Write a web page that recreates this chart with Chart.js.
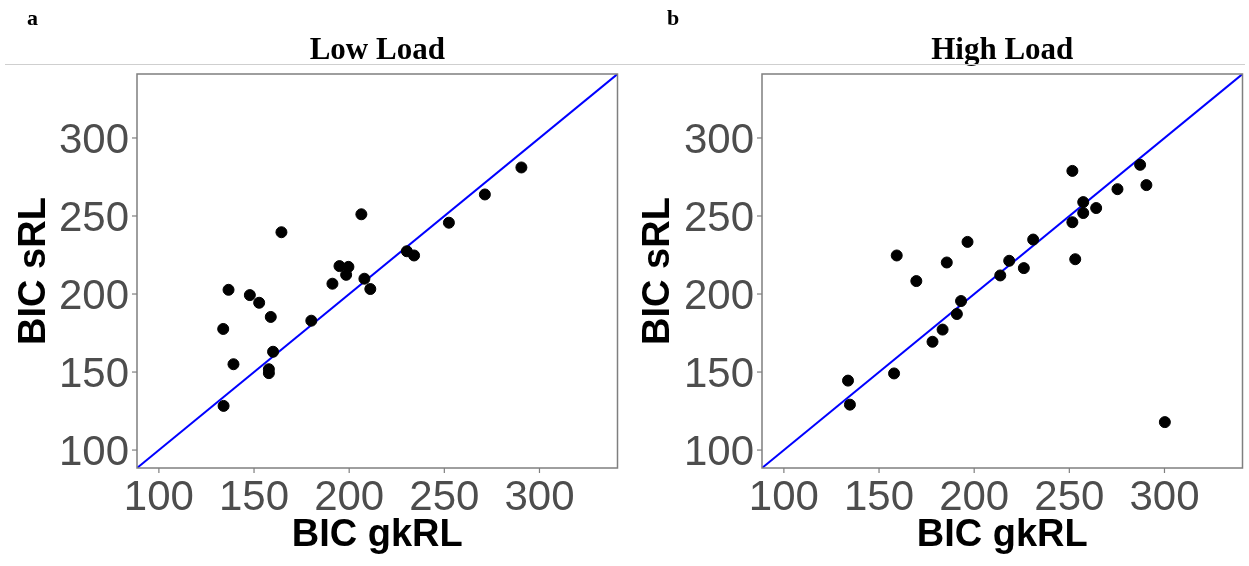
<!DOCTYPE html>
<html>
<head>
<meta charset="utf-8">
<script src="https://cdn.jsdelivr.net/npm/chart.js@4.4.0/dist/chart.umd.min.js"></script>
<style>
  body { margin: 0; background: #fff; width: 1249px; height: 566px; position: relative; overflow: hidden; }
  canvas { position: absolute; top: 0; }
  #left { left: 0; }
  #right { left: 624px; }
  #rule { position: absolute; left: 5px; top: 64px; width: 1240px; height: 1px; background: #cfcfcf; z-index: 2; }
</style>
</head>
<body>
<canvas id="left" width="624" height="566"></canvas>
<canvas id="right" width="625" height="566"></canvas>
<div id="rule"></div>
<script>
// axis setup
const axisMin = 88.5;
const axisMax = 341;
const tickValues = [100, 150, 200, 250, 300];

// Low Load (panel a)
const lowX = [134.0, 133.8, 136.6, 139.2, 147.8, 152.7, 158.8, 160.0, 157.8, 157.8, 164.4, 180.1,
    191.2, 194.9, 199.6, 198.4, 206.4, 208.0, 211.1, 230.3, 234.1, 252.4, 271.3, 290.5];
const lowY = [128.3, 177.6, 202.7, 155.0, 199.3, 194.4, 185.3, 163.0, 151.8, 149.3, 239.6, 182.9,
    206.6, 217.9, 217.4, 212.3, 251.1, 209.8, 203.2, 227.4, 224.7, 245.7, 263.8, 281.1];

// High Load (panel b)
const highX = [133.7, 134.7, 157.9, 159.3, 169.6, 178.1, 183.4, 185.6, 190.9, 193.1, 196.5, 213.7,
    218.4, 226.1, 231.0, 251.6, 251.6, 253.1, 257.3, 257.3, 264.1, 275.3, 287.2, 290.5, 300.2];
const highY = [144.5, 129.1, 149.1, 224.7, 208.3, 169.4, 177.2, 220.2, 187.2, 195.5, 233.4, 211.9,
    221.3, 216.6, 234.9, 278.9, 246.0, 222.3, 258.9, 251.9, 255.1, 267.2, 282.8, 269.8, 117.9];

const TICK_FONT = "42px 'Liberation Sans', Arial, sans-serif";
const AXIS_FONT = "bold 38px 'Liberation Sans', Arial, sans-serif";
const TITLE_FONT = "bold 31px 'Liberation Serif', 'Times New Roman', serif";
const LETTER_FONT = "bold 22px 'Liberation Serif', 'Times New Roman', serif";

function decorations(title, letter) {
    return {
        id: "decor",
        afterDraw(chart) {
            const ctx = chart.ctx;
            const a = chart.chartArea;
            const xs = chart.scales.x;
            const ys = chart.scales.y;
            ctx.save();

            // panel border
            ctx.strokeStyle = "#7f7f7f";
            ctx.lineWidth = 1.5;
            ctx.strokeRect(a.left, a.top, a.right - a.left, a.bottom - a.top);

            // ticks + labels
            ctx.fillStyle = "#4d4d4d";
            ctx.font = TICK_FONT;
            ctx.lineWidth = 1.2;
            tickValues.forEach(v => {
                const px = xs.getPixelForValue(v);
                ctx.beginPath();
                ctx.moveTo(px, a.bottom);
                ctx.lineTo(px, a.bottom + 5);
                ctx.stroke();
                ctx.textAlign = "center";
                ctx.textBaseline = "alphabetic";
                ctx.fillText(String(v), px, 510);

                const py = ys.getPixelForValue(v);
                ctx.beginPath();
                ctx.moveTo(a.left - 5, py);
                ctx.lineTo(a.left, py);
                ctx.stroke();
                ctx.textAlign = "right";
                ctx.fillText(String(v), a.left - 8, py + 15);
            });

            // axis titles
            ctx.fillStyle = "#000";
            ctx.font = AXIS_FONT;
            ctx.textAlign = "center";
            ctx.fillText("BIC gkRL", (a.left + a.right) / 2, 546);
            ctx.save();
            ctx.translate(45, (a.top + a.bottom) / 2);
            ctx.rotate(-Math.PI / 2);
            ctx.fillText("BIC sRL", 0, 0);
            ctx.restore();

            // panel title + letter
            ctx.font = TITLE_FONT;
            ctx.fillText(title, (a.left + a.right) / 2, 59);
            ctx.font = LETTER_FONT;
            ctx.textAlign = "left";
            ctx.fillText(letter, letter === "a" ? 27 : 43, 25);
            ctx.restore();
        }
    };
}

function makePanel(id, xs, ys, title, letter, pad) {
    const pts = xs.map((x, i) => ({ x: x, y: ys[i] }));
    return new Chart(document.getElementById(id), {
        type: "scatter",
        data: {
            datasets: [
                {
                    data: pts,
                    backgroundColor: "#000",
                    borderColor: "#000",
                    pointRadius: 5.5,
                    pointHoverRadius: 5.5,
                    order: 0
                },
                {
                    type: "line",
                    data: [{ x: axisMin, y: axisMin }, { x: axisMax, y: axisMax }],
                    borderColor: "#0000ff",
                    borderWidth: 2,
                    pointRadius: 0,
                    fill: false,
                    order: 1
                }
            ]
        },
        options: {
            responsive: false,
            animation: false,
            devicePixelRatio: 1,
            layout: { padding: pad },
            plugins: { legend: { display: false }, tooltip: { enabled: false } },
            scales: {
                x: {
                    type: "linear", min: axisMin, max: axisMax,
                    grid: { display: false }, border: { display: false },
                    ticks: { display: false },
                    afterFit(scale) { scale.height = 0; }
                },
                y: {
                    type: "linear", min: axisMin, max: axisMax,
                    grid: { display: false }, border: { display: false },
                    ticks: { display: false },
                    afterFit(scale) { scale.width = 0; }
                }
            }
        },
        plugins: [decorations(title, letter)]
    });
}

makePanel("left", lowX, lowY, "Low Load", "a", { left: 137, right: 4, top: 74, bottom: 98 });
makePanel("right", highX, highY, "High Load", "b", { left: 138, right: 6, top: 74, bottom: 98 });
</script>
</body>
</html>
